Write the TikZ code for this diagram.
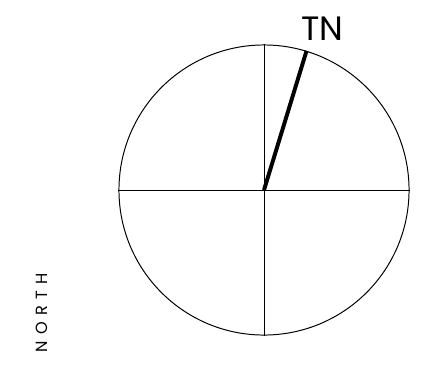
\documentclass[tikz,border=0pt]{standalone}
\usepackage{fontspec}
\setmainfont{Poppins}
\usetikzlibrary{positioning}

\begin{document}
\begin{tikzpicture}[
    x=0.025cm, y=0.025cm,
    dial/.style={circle, draw=black, line width=0.7pt, inner sep=0pt, minimum size=7.25cm},
    tick/.style={line width=0.7pt},
    needle/.style={line width=2.8pt},
    tnlabel/.style={font=\fontsize{24}{28}\selectfont, inner sep=0pt},
    sidelabel/.style={font=\fontsize{11.5}{13}\selectfont, rotate=90, inner sep=0pt}
]
\useasboundingbox (0,0) rectangle (444,377);

% Nodes
\node (dial) [dial] at (264,187) {};
\node (tn) [tnlabel] at (322,348) {TN};
\node (north) [sidelabel] at (42,64) {N\hspace{4.5pt}O\hspace{4.5pt}R\hspace{4.5pt}T\hspace{4.5pt}H};

% Lines
\draw [tick] (dial.west) -- (dial.east);
\draw [tick] (dial.north) -- (dial.south);
\draw [needle] (dial.center) -- (dial.73);

\end{tikzpicture}
\end{document}
